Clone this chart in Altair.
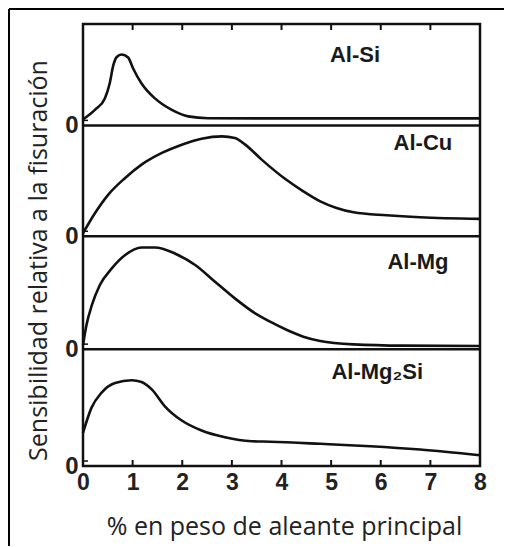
import altair as alt
import pandas as pd

# ---- data ----
series_names = ["Al-Si", "Al-Cu", "Al-Mg", "Al-Mg2Si"]
# panel baselines (relative units, stacked panels)
baselines = [341, 230, 117, 0]

si_x = [0, 0.24, 0.44, 0.54, 0.61, 0.68, 0.78, 0.91, 1.01, 1.18, 1.45, 1.79, 2.12, 2.52, 3.5, 5, 6.5, 8]
si_y = [6, 15.5, 27, 42.5, 60, 68.5, 71, 68, 57, 42, 27, 15.5, 9, 7.2, 7, 7, 7, 7]

cu_x = [0, 0.24, 0.51, 0.85, 1.18, 1.59, 1.99, 2.39, 2.8, 3.06, 3.27, 3.6, 4.07, 4.44, 4.78, 5.11, 5.45, 6.12, 6.79, 8]
cu_y = [3, 23, 41.7, 58.4, 71.7, 83.4, 91.7, 97.7, 100, 98.4, 91.7, 76.7, 57.5, 45, 35, 28.4, 24, 21, 19, 17.4]

mg_x = [0, 0.07, 0.18, 0.34, 0.58, 0.85, 1.18, 1.45, 1.85, 2.26, 2.66, 3.06, 3.47, 3.77, 4.11, 4.44, 4.78, 5.45, 6.46, 8]
mg_y = [4, 24.2, 44.2, 64.2, 80.8, 94.2, 101.8, 101.8, 95.8, 84.2, 67.5, 50.8, 35.8, 27.5, 19.2, 12.5, 8.2, 4.8, 3.5, 3.2]

mg2si_x = [0, 0.17, 0.37, 0.645, 0.98, 1.18, 1.39, 1.65, 1.99, 2.39, 2.86, 3.4, 3.77, 4.78, 5.79, 6.79, 8]
mg2si_y = [33.2, 58.2, 73.2, 83.2, 85.8, 84.2, 76.5, 59.8, 45.5, 35.5, 28.8, 24.8, 24.3, 22.2, 19.8, 16.5, 10.8]

label_texts = ["Al-Si", "Al-Cu", "Al-Mg", "Al-Mg₂Si"]
label_x = [5.48, 6.85, 6.75, 5.93]
label_y = [411.5, 323.5, 204.5, 94.5]

tick_values = [1, 2, 3, 4, 5, 6, 7]
x_labels = [0, 1, 2, 3, 4, 5, 6, 7, 8]

# ---- build tables ----
rows = []
for name, xv_list, yv_list, b in zip(series_names,
                                     [si_x, cu_x, mg_x, mg2si_x],
                                     [si_y, cu_y, mg_y, mg2si_y],
                                     baselines):
    for i, (xv, yv) in enumerate(zip(xv_list, yv_list)):
        rows.append({"serie": name, "order": i, "x": xv, "y": b + yv})
curves = pd.DataFrame(rows)
seps = pd.DataFrame({"y": baselines[:3]})
labels = pd.DataFrame({"t": label_texts, "x": label_x, "y": label_y})
ticks = pd.DataFrame({"x": tick_values})
lticks = pd.DataFrame({"y": baselines})

W, H = 397, 442
xs = alt.Scale(domain=[0, 8], nice=False)
ys = alt.Scale(domain=[0, 442.5], nice=False)

x_axis = alt.Axis(
    values=x_labels, format="d", ticks=False, domain=False, grid=False,
    labelFontSize=23, labelFont="Liberation Sans", labelFontWeight="bold",
    labelColor="#222", labelPadding=5, labelFlush=False,
    title="% en peso de aleante principal", titleFont="Open Sans",
    titleFontSize=25, titleFontWeight="normal", titleColor="#222",
    titleX=201, titleY=60, titleBaseline="middle")
y_axis = alt.Axis(
    values=baselines, labelExpr="'0'", ticks=False, domain=False, grid=False,
    labelFontSize=24, labelFont="Liberation Sans", labelFontWeight="bold",
    labelColor="#222", labelPadding=5,
    title="Sensibilidad relativa a la fisuración", titleFont="Open Sans",
    titleFontSize=25, titleFontWeight="normal", titleColor="#222",
    titleX=-45, titleY=236, titleBaseline="middle")

X = alt.X("x:Q", scale=xs, axis=x_axis)
Y = alt.Y("y:Q", scale=ys, axis=y_axis)

lines = alt.Chart(curves).mark_line(
    color="#111", strokeWidth=2.6, interpolate="monotone"
).encode(x=X, y=Y, detail="serie:N", order="order:Q")

sep_rules = alt.Chart(seps).mark_rule(color="#111", strokeWidth=2.5).encode(y=Y)

top_ticks = alt.Chart(ticks).mark_rule(color="#111", strokeWidth=2).encode(
    x=X, y=alt.value(0), y2=alt.value(6)
)
bot_ticks = alt.Chart(ticks).mark_rule(color="#111", strokeWidth=2).encode(
    x=X, y=alt.value(H - 6), y2=alt.value(H)
)
left_ticks = alt.Chart(lticks).mark_rule(color="#111", strokeWidth=1.5).encode(
    y=Y, x=alt.value(0), x2=alt.value(5), yOffset=alt.value(-5)
)

text = alt.Chart(labels).mark_text(
    font="Liberation Sans", fontSize=22, fontWeight="bold", color="#1a1a1a",
    align="center", baseline="middle"
).encode(x=X, y=Y, text="t:N")

frame = alt.Chart(pd.DataFrame({"k": [0]})).mark_rule(color="#000", strokeWidth=2).encode(
    x=alt.value(-74), x2=alt.value(440), y=alt.value(-15)
)
frame2 = alt.Chart(pd.DataFrame({"k": [0]})).mark_rule(color="#000", strokeWidth=2).encode(
    x=alt.value(-74), y=alt.value(-15), y2=alt.value(560)
)

chart = alt.layer(
    lines, sep_rules, top_ticks, bot_ticks, left_ticks, text, frame, frame2
).properties(
    width=W, height=H,
    autosize=alt.AutoSizeParams(type="none"),
    padding={"left": 75, "top": 16, "right": 24, "bottom": 80},
    background="white",
).configure_view(stroke="#111", strokeWidth=2.5)

chart.save("out.html", embed_options={"renderer": "svg", "actions": False})
